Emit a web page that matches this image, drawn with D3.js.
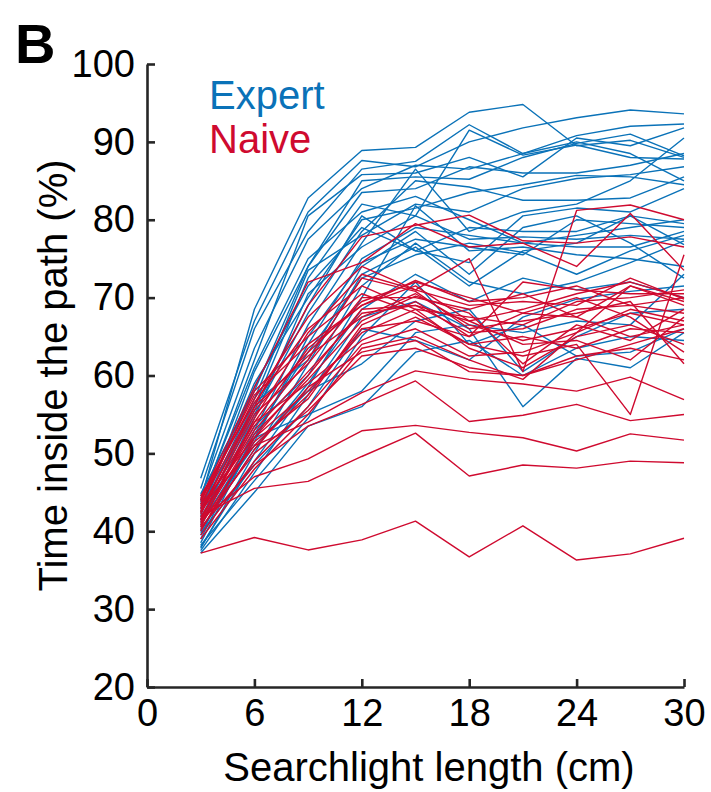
<!DOCTYPE html>
<html>
<head>
<meta charset="utf-8">
<script src="https://cdn.jsdelivr.net/npm/d3@7"></script>
<style>
    body { margin: 0; background: #fff; }
    svg { display: block; font-family: "Liberation Sans", Arial, sans-serif; }
</style>
</head>
<body>
<div id="chart"></div>
<script>
// searchlight lengths (cm) where each session was measured
const lengths = [3, 6, 9, 12, 15, 18, 21, 24, 27, 30]

const xTicks = [0, 6, 12, 18, 24, 30]
const yTicks = [20, 30, 40, 50, 60, 70, 80, 90, 100]

// time inside the path (%), one row per expert animal
const expert = [
    [44.0, 68.5, 82.8, 88.9, 89.3, 93.8, 94.8, 89.5, 90.2, 88.0],
    [46.8, 67.0, 81.0, 87.6, 86.8, 90.0, 91.8, 93.1, 94.1, 93.6],
    [45.5, 66.0, 78.5, 86.5, 87.5, 92.2, 88.5, 90.8, 92.0, 92.3],
    [43.5, 62.0, 80.5, 85.8, 86.0, 88.0, 85.5, 90.5, 89.5, 91.8],
    [42.0, 60.5, 74.0, 85.0, 85.5, 85.2, 88.0, 89.8, 91.0, 88.2],
    [44.8, 58.0, 74.0, 83.5, 84.0, 86.8, 86.0, 86.0, 87.0, 88.5],
    [41.5, 56.0, 72.5, 82.0, 80.5, 91.5, 88.3, 89.6, 88.0, 87.8],
    [43.0, 59.0, 70.0, 80.0, 81.5, 83.5, 84.5, 85.7, 85.5, 84.5],
    [40.5, 55.0, 68.0, 78.5, 85.0, 84.2, 82.5, 82.5, 82.8, 85.5],
    [42.5, 57.0, 73.5, 78.0, 82.0, 81.0, 84.0, 85.3, 85.8, 86.8],
    [39.5, 53.0, 66.5, 77.0, 86.5, 78.5, 81.0, 82.0, 85.0, 90.5],
    [41.0, 54.5, 70.5, 76.5, 80.5, 77.5, 77.8, 77.5, 78.0, 77.5],
    [38.5, 52.0, 64.0, 75.0, 79.0, 78.0, 77.0, 76.5, 76.5, 78.5],
    [40.0, 51.5, 65.0, 74.5, 77.5, 76.5, 75.5, 80.0, 79.5, 79.0],
    [42.3, 56.5, 62.0, 74.0, 78.5, 73.0, 79.0, 80.5, 77.0, 72.5],
    [37.8, 50.0, 61.5, 73.0, 76.5, 71.5, 76.0, 77.0, 80.5, 76.8],
    [39.0, 52.5, 63.0, 72.5, 75.5, 77.0, 75.8, 73.0, 76.0, 78.0],
    [41.8, 53.5, 60.0, 71.5, 77.0, 72.0, 70.5, 72.0, 74.5, 77.3],
    [38.0, 49.0, 58.5, 70.0, 81.8, 76.0, 76.5, 75.5, 75.0, 74.0],
    [40.2, 50.5, 59.0, 68.5, 73.0, 69.5, 72.5, 71.0, 72.0, 70.0],
    [37.5, 47.5, 57.5, 67.5, 69.5, 66.0, 56.0, 62.2, 61.0, 65.5],
    [39.8, 48.5, 56.0, 66.0, 64.5, 62.0, 67.5, 69.8, 70.8, 71.5],
    [38.2, 46.5, 54.5, 65.0, 72.0, 64.0, 66.5, 62.5, 63.0, 66.0],
    [41.2, 51.0, 58.0, 61.5, 67.0, 68.5, 60.5, 65.0, 68.0, 68.5],
    [37.2, 45.0, 53.5, 56.0, 63.0, 64.5, 60.0, 63.5, 65.0, 64.5],
    [40.8, 52.0, 55.0, 58.0, 65.5, 66.5, 65.5, 67.0, 66.5, 73.0],
    [43.8, 61.0, 75.0, 81.0, 83.0, 80.0, 77.0, 78.0, 79.0, 80.0],
    [44.5, 63.5, 77.5, 84.0, 87.0, 86.5, 88.5, 90.0, 88.5, 85.0],
    [42.8, 58.5, 71.5, 79.0, 76.0, 74.5, 80.5, 81.5, 81.0, 84.0],
    [41.4, 55.5, 69.0, 80.5, 76.0, 79.0, 78.5, 78.5, 80.5, 79.5]
]

// time inside the path (%), one row per naive animal
const naive = [
    [37.2, 39.2, 37.6, 38.9, 41.3, 36.7, 40.7, 36.3, 37.1, 39.1],
    [42.0, 45.5, 46.4, 49.6, 52.6, 47.1, 48.5, 48.1, 49.0, 48.8],
    [41.5, 47.0, 49.3, 52.9, 53.6, 52.7, 52.0, 50.3, 52.5, 51.7],
    [40.5, 48.5, 53.5, 56.3, 59.3, 54.1, 54.9, 56.3, 54.2, 55.0],
    [43.0, 51.0, 54.0, 57.8, 60.6, 59.5, 58.9, 58.0, 59.8, 56.9],
    [41.0, 50.0, 55.5, 62.5, 63.5, 61.0, 60.0, 62.5, 63.5, 62.0],
    [42.5, 54.0, 59.0, 64.5, 67.5, 64.0, 62.5, 64.0, 55.0, 75.5],
    [40.0, 52.0, 58.0, 65.5, 68.5, 63.5, 61.0, 65.0, 66.5, 64.0],
    [43.5, 56.0, 62.5, 67.5, 70.5, 66.5, 64.5, 66.0, 68.0, 66.5],
    [41.8, 53.0, 60.5, 68.0, 69.0, 65.5, 66.0, 68.5, 69.0, 68.0],
    [44.0, 57.5, 64.0, 69.0, 71.5, 67.0, 68.5, 70.5, 72.0, 70.0],
    [42.2, 55.0, 61.5, 70.0, 70.0, 68.5, 70.5, 67.5, 71.5, 69.5],
    [40.8, 51.5, 57.0, 66.5, 69.5, 65.0, 72.0, 71.0, 70.5, 70.5],
    [43.2, 58.0, 65.0, 70.5, 68.0, 64.0, 65.0, 63.5, 66.0, 65.5],
    [39.5, 49.0, 56.0, 64.0, 66.0, 62.5, 63.0, 65.5, 68.5, 67.0],
    [44.5, 56.5, 66.0, 71.5, 68.5, 67.5, 66.5, 69.5, 70.0, 71.0],
    [41.2, 52.5, 59.5, 67.0, 70.2, 68.0, 61.5, 66.5, 64.5, 68.5],
    [42.8, 55.5, 63.0, 69.5, 72.0, 70.0, 68.0, 70.0, 67.5, 63.0],
    [40.2, 50.5, 58.5, 63.0, 64.5, 60.5, 60.0, 62.0, 64.0, 66.0],
    [43.8, 57.0, 67.5, 74.0, 71.0, 69.0, 69.5, 69.0, 72.5, 69.8],
    [41.6, 53.5, 62.0, 72.5, 70.8, 66.0, 67.0, 68.0, 69.5, 61.5],
    [44.2, 58.5, 72.0, 74.5, 79.5, 76.5, 77.0, 74.0, 80.8, 73.5],
    [42.4, 56.0, 69.0, 77.8, 79.3, 80.6, 77.3, 77.0, 77.8, 76.5],
    [40.6, 54.5, 65.5, 73.0, 71.0, 75.0, 60.5, 81.2, 81.9, 80.0],
    [43.4, 52.0, 60.0, 68.5, 69.0, 67.0, 64.0, 64.5, 62.0, 67.5],
    [39.0, 48.0, 55.0, 63.5, 65.0, 62.0, 59.5, 65.5, 71.5, 69.0],
    [41.4, 54.0, 63.5, 69.0, 72.2, 69.5, 70.0, 71.5, 69.0, 70.0],
    [42.6, 51.0, 57.5, 66.0, 67.0, 65.0, 68.0, 67.5, 65.0, 66.5]
]

const groups = ["Expert", "Naive"]
const colors = ["#0a72b8", "#cf0a2f"]

const width = 711, height = 792
const margin = {top: 64, right: 27, bottom: 105, left: 147}

const svg = d3.select("#chart").append("svg")
    .attr("width", width)
    .attr("height", height)

const x = d3.scaleLinear()
    .domain([0, 30])
    .range([margin.left, width - margin.right])

const y = d3.scaleLinear()
    .domain([20, 100])
    .range([height - margin.bottom, margin.top])

const line = d3.line()
    .x((d, i) => x(lengths[i]))
    .y(d => y(d))

const series = [expert, naive]
series.forEach((rows, gi) => {
    svg.append("g")
        .attr("fill", "none")
        .attr("stroke", colors[gi])
        .attr("stroke-width", 1.4)
        .attr("stroke-linejoin", "round")
        .selectAll("path")
        .data(rows)
        .enter().append("path")
        .attr("d", line)
})

// axes, ticks pointing inward like matlab
const xAxis = svg.append("g")
    .attr("transform", `translate(0,${y(20)})`)
    .call(d3.axisBottom(x).tickValues(xTicks).tickSizeInner(-8).tickSizeOuter(0).tickPadding(12))

const yAxis = svg.append("g")
    .attr("transform", `translate(${x(0)},0)`)
    .call(d3.axisLeft(y).tickValues(yTicks).tickSizeInner(-8).tickSizeOuter(0).tickPadding(12))

for (let ax of [xAxis, yAxis]) {
    ax.select(".domain").attr("stroke", "#262626").attr("stroke-width", 2.6)
    ax.selectAll(".tick line").attr("stroke", "#262626").attr("stroke-width", 2.6)
    ax.selectAll("text")
        .attr("fill", "#000")
        .attr("font-size", 38)
        .attr("font-family", "'Liberation Sans', Arial, sans-serif")
}

// the x title sits a bit right of the axis centre in the figure
svg.append("text")
    .attr("x", 429)
    .attr("y", 781)
    .attr("text-anchor", "middle")
    .attr("font-size", 40)
    .text("Searchlight length (cm)")

svg.append("text")
    .attr("transform", `translate(67,${(y(20) + y(100)) / 2}) rotate(-90)`)
    .attr("text-anchor", "middle")
    .attr("font-size", 40)
    .text("Time inside the path (%)")

svg.append("text")
    .attr("x", 15)
    .attr("y", 63)
    .attr("font-size", 56)
    .attr("font-weight", "bold")
    .text("B")

svg.selectAll("text.legend")
    .data(groups)
    .enter().append("text")
    .attr("class", "legend")
    .attr("x", 209)
    .attr("y", (d, i) => 109 + i * 44)
    .attr("font-size", 40)
    .attr("fill", (d, i) => colors[i])
    .text(d => d)
</script>
</body>
</html>
